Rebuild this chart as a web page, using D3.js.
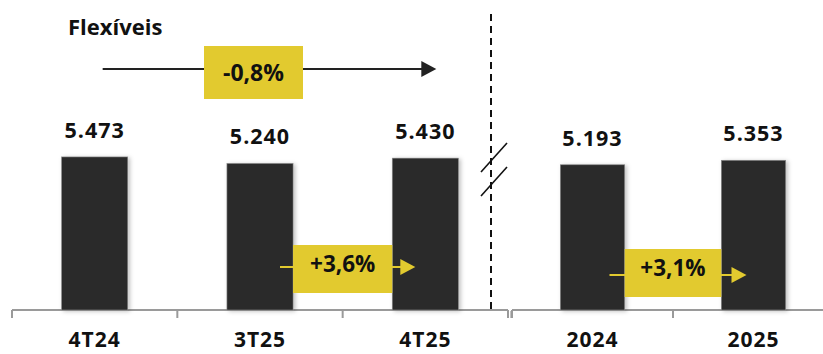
<!DOCTYPE html>
<html>
<head>
<meta charset="utf-8">
<script src="https://cdn.jsdelivr.net/npm/d3@7"></script>
<style>
  html, body { margin: 0; padding: 0; background: #fff; }
  svg { display: block; }
  text { font-family: "Open Sans", "Liberation Sans", sans-serif; font-weight: 700; fill: #111; }
</style>
</head>
<body>
<svg id="chart" width="823" height="354"></svg>
<script>
// Quarterly panel
const quarters = ["4T24", "3T25", "4T25"];
const quarterValues = [5473, 5240, 5430];
const quarterLabels = ["5.473", "5.240", "5.430"];
// Annual panel
const years = ["2024", "2025"];
const yearValues = [5193, 5353];
const yearLabels = ["5.193", "5.353"];
// Variations shown in the call-out boxes
const title = "Flexíveis";
const changeYoY = "-0,8%";
const changeQoQ = "+3,6%";
const changeAnnual = "+3,1%";

const W = 823, H = 354;
const baseY = 310;
const YELLOW = "#e2ca2f";
const BAR = "#2b2b2b";
const AXIS = "#9a9a9a";

const svg = d3.select("#chart");
const defs = svg.append("defs");
const shadow = defs.append("filter").attr("id", "barShadow")
  .attr("x", "-20%").attr("y", "-20%").attr("width", "140%").attr("height", "140%");
shadow.append("feDropShadow").attr("dx", 2).attr("dy", 1)
  .attr("stdDeviation", 2).attr("flood-color", "#000").attr("flood-opacity", 0.25);

const y = d3.scaleLinear().domain([0, 6000]).range([baseY, baseY - 167.8]);

const xQ = d3.scaleBand().domain(quarters).range([12, 508]).paddingInner(0.6).paddingOuter(0.3);
const xY = d3.scaleBand().domain(years).range([512, 834]).paddingInner(0.6).paddingOuter(0.3);

function panel(x, cats, vals, labels) {
  const g = svg.append("g");
  const data = cats.map((c, i) => ({ c, v: vals[i], l: labels[i] }));

  // axis line with ticks at band boundaries
  const [r0, r1] = x.range();
  const step = x.step();
  const axisEnd = Math.min(r1, W + 5);
  g.append("line").attr("x1", r0).attr("x2", axisEnd).attr("y1", baseY).attr("y2", baseY)
    .attr("stroke", AXIS).attr("stroke-width", 2);
  const tickXs = d3.range(cats.length + 1).map(i => r0 + i * step).filter(t => t <= W);
  g.selectAll(".tk").data(tickXs).join("line").attr("class", "tk")
    .attr("x1", d => d).attr("x2", d => d).attr("y1", baseY).attr("y2", baseY + 8)
    .attr("stroke", AXIS).attr("stroke-width", 2);

  // bars
  g.selectAll(".bar").data(data).join("rect").attr("class", "bar")
    .attr("x", d => x(d.c)).attr("width", x.bandwidth())
    .attr("y", d => y(d.v)).attr("height", d => baseY - y(d.v))
    .attr("fill", BAR).attr("stroke", "#8a8a8a").attr("stroke-width", 0.6)
    .attr("filter", "url(#barShadow)");

  // value labels
  g.selectAll(".val").data(data).join("text").attr("class", "val")
    .attr("x", d => x(d.c) + x.bandwidth() / 2).attr("y", d => y(d.v) - 19)
    .attr("text-anchor", "middle").attr("font-size", 21.5).attr("letter-spacing", 1)
    .text(d => d.l);

  // category labels via axis
  const ax = g.append("g").attr("transform", `translate(0,${baseY})`)
    .call(d3.axisBottom(x).tickSize(0).tickPadding(0));
  ax.select(".domain").remove();
  ax.selectAll("text").attr("y", 37).attr("dy", 0)
    .attr("font-size", 21).attr("letter-spacing", 1)
    .attr("font-family", "'Open Sans', sans-serif").attr("font-weight", 700).attr("fill", "#111");
  return g;
}

panel(xQ, quarters, quarterValues, quarterLabels);
panel(xY, years, yearValues, yearLabels);

// panel separator
const sepX = 491;
svg.append("line").attr("x1", sepX).attr("x2", sepX).attr("y1", 14).attr("y2", baseY)
  .attr("stroke", "#111").attr("stroke-width", 2).attr("stroke-dasharray", "7,5");
// axis-break marks
[[172, 143], [196, 167]].forEach(([ya, yb]) => {
  svg.append("line").attr("x1", 481).attr("y1", ya).attr("x2", 507).attr("y2", yb)
    .attr("stroke", "#111").attr("stroke-width", 1.6);
});
// small double tick where the two axes meet
[508, 511].forEach(t => svg.append("line").attr("x1", t).attr("x2", t)
  .attr("y1", baseY + 1).attr("y2", baseY + 8).attr("stroke", AXIS).attr("stroke-width", 1.2));

// title
svg.append("text").attr("x", 68).attr("y", 35).attr("font-size", 22).text(title);

// arrow with call-out box
function callout(x0, x1, yc, bx0, bx1, by0, by1, color, label, fs, textDy) {
  const g = svg.append("g");
  const head = 15, hh = 8;
  g.append("line").attr("x1", x0).attr("x2", x1 - head + 1).attr("y1", yc).attr("y2", yc)
    .attr("stroke", color).attr("stroke-width", 2);
  g.append("path").attr("d", `M${x1 - head},${yc - hh}L${x1},${yc}L${x1 - head},${yc + hh}Z`)
    .attr("fill", color);
  g.append("rect").attr("x", bx0).attr("y", by0).attr("width", bx1 - bx0).attr("height", by1 - by0)
    .attr("fill", YELLOW);
  g.append("text").attr("x", (bx0 + bx1) / 2).attr("y", (by0 + by1) / 2 + textDy)
    .attr("text-anchor", "middle").attr("font-size", fs).text(label);
}

const cQ = q => xQ(q) + xQ.bandwidth() / 2;
const cY = q => xY(q) + xY.bandwidth() / 2;

callout(cQ("4T24") + 8, cQ("4T25") + 11, 69,
  cQ("3T25") - 56, cQ("3T25") + 43, 46, 99, "#222", changeYoY, 23, 8);
callout(cQ("3T25") + 20, cQ("4T25") - 10, 267,
  xQ("3T25") + xQ.bandwidth(), xQ("4T25"), 245, 293, YELLOW, changeQoQ, 22.5, 3);
callout(cY("2024") + 17, cY("2025") - 7, 275,
  xY("2024") + xY.bandwidth(), xY("2025"), 249, 297, YELLOW, changeAnnual, 22.5, 3);
</script>
</body>
</html>
